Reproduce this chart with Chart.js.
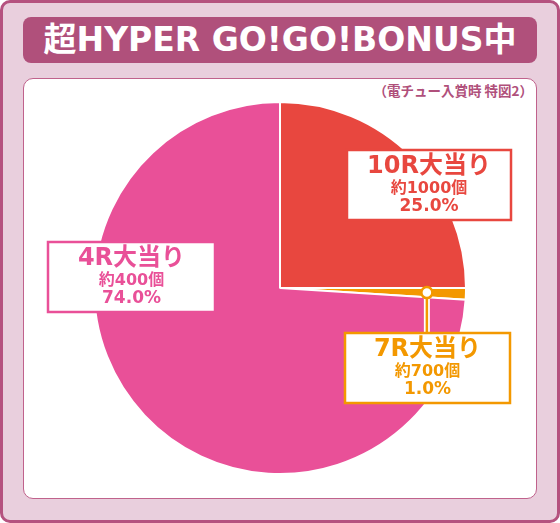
<!DOCTYPE html>
<html>
<head>
<meta charset="utf-8">
<script src="https://cdn.jsdelivr.net/npm/chart.js@4"></script>
<style>
  body { margin: 0; width: 560px; height: 523px; overflow: hidden; font-family: "Noto Sans CJK JP", "Noto Sans", sans-serif; }
  #frame { position: absolute; left: 0; top: 0; width: 560px; height: 523px; box-sizing: border-box;
           border: 3px solid #B5527F; border-radius: 10px; background: #E9CFDD; }
  #title { position: absolute; left: 23px; top: 17px; width: 514px; height: 46px; border-radius: 8px;
           background: #B0507B; color: #fff; font-family: "DejaVu Sans", "Noto Sans CJK JP", sans-serif;
           font-weight: 700; font-size: 33px; line-height: 46px; text-align: center; }
  #panel { position: absolute; left: 23px; top: 78px; width: 514px; height: 421px; box-sizing: border-box;
           background: #fff; border: 1.5px solid #C0628C; border-radius: 10px; }
  #note { position: absolute; right: 27px; top: 80px; color: #B0507B; font-weight: 700; font-size: 13.5px; }
  #wrap { position: absolute; left: 0; top: 0; width: 560px; height: 523px; }
</style>
</head>
<body>
<div id="frame"></div>
<div id="title">超HYPER GO!GO!BONUS中</div>
<div id="panel"></div>
<div id="note">（電チュー入賞時 特図2）</div>
<div id="wrap"><canvas id="pieChart" width="560" height="523"></canvas></div>
<script>
// データ
const labels = ['10R大当り', '7R大当り', '4R大当り'];
const payouts = ['約1000個', '約700個', '約400個'];
const shares = [25.0, 1.0, 74.0];
const colors = ['#E8473F', '#F39800', '#E95098'];

// ラベルの箱 (位置とスタイル)
const boxes = [
    { x: 347, y: 150, w: 164, h: 70 },
    { x: 345, y: 333, w: 165, h: 70, dot: 0.79 },
    { x: 48, y: 242, w: 167, h: 70 },
];
const boxFont = '"DejaVu Sans", "Noto Sans CJK JP", sans-serif';

const labelPlugin = {
    id: 'labelBoxes',
    afterDatasetsDraw(chart) {
        const c = chart.ctx;
        const arcs = chart.getDatasetMeta(0).data;
        arcs.forEach((arc, i) => {
            const b = boxes[i];
            const col = colors[i];
            const p = arc.getProps(['x', 'y', 'startAngle', 'endAngle', 'outerRadius']);

            c.save();
            // 引き出し線と丸
            if (b.dot) {
                const mid = (p.startAngle + p.endAngle) / 2;
                const dx = p.x + Math.cos(mid) * p.outerRadius * b.dot;
                const dy = p.y + Math.sin(mid) * p.outerRadius * b.dot;
                c.strokeStyle = '#fff';
                c.lineWidth = 6;
                c.beginPath(); c.moveTo(dx, dy); c.lineTo(dx, b.y); c.stroke();
                c.strokeStyle = col;
                c.lineWidth = 2.5;
                c.beginPath(); c.moveTo(dx, dy); c.lineTo(dx, b.y); c.stroke();
                c.beginPath(); c.arc(dx, dy, 5.5, 0, Math.PI * 2);
                c.fillStyle = '#fff'; c.fill();
                c.lineWidth = 2.5; c.stroke();
            }
            // 箱
            c.fillStyle = '#fff';
            c.fillRect(b.x, b.y, b.w, b.h);
            c.strokeStyle = col;
            c.lineWidth = 2.5;
            c.strokeRect(b.x, b.y, b.w, b.h);

            // 文字
            const cx = b.x + b.w / 2;
            c.fillStyle = col;
            c.textAlign = 'center';
            c.textBaseline = 'middle';
            c.font = 'bold 24px ' + boxFont;
            c.fillText(labels[i], cx, b.y + 17);
            c.font = 'bold 16px ' + boxFont;
            c.fillText(payouts[i], cx, b.y + 39);
            c.font = 'bold 17px ' + boxFont;
            c.fillText(shares[i].toFixed(1) + '%', cx, b.y + 57);
            c.restore();
        });
    }
};

new Chart(document.getElementById('pieChart'), {
    type: 'pie',
    data: {
        labels: labels,
        datasets: [{
            data: shares,
            backgroundColor: colors,
            borderColor: '#fff',
            borderWidth: 2,
        }],
    },
    options: {
        responsive: false,
        animation: false,
        layout: { padding: { left: 93, right: 93, top: 101, bottom: 48 } },
        plugins: {
            legend: { display: false },
            tooltip: { enabled: false },
        },
    },
    plugins: [labelPlugin],
});
</script>
</body>
</html>
